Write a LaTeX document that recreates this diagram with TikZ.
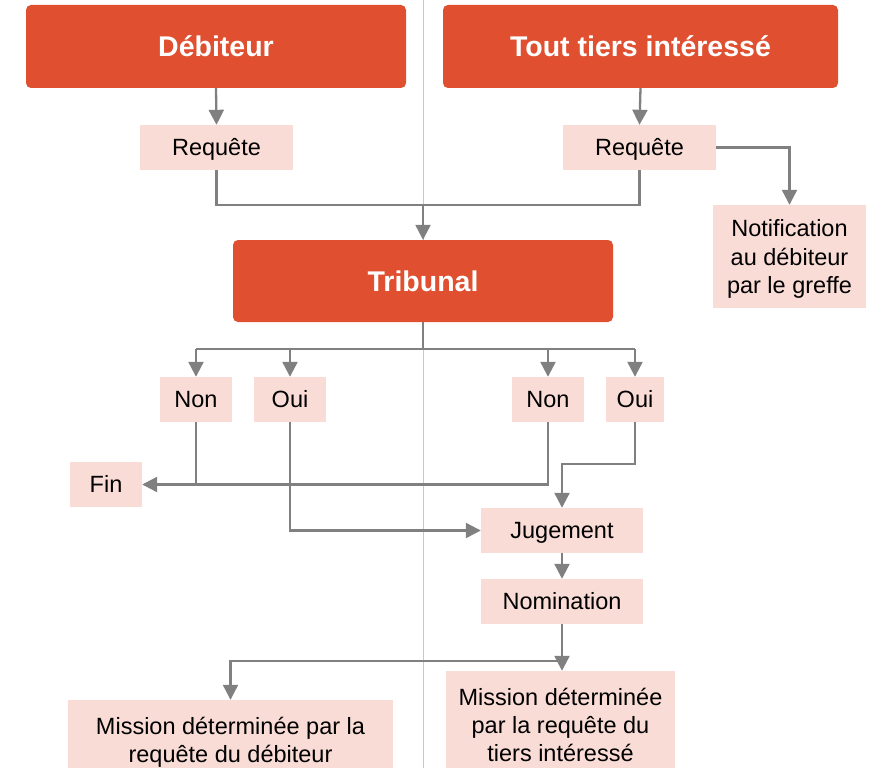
\documentclass[tikz,border=0pt]{standalone}
\usepackage{fontspec}
\setmainfont{Liberation Sans}
\usetikzlibrary{arrows.meta}
\definecolor{hdr}{RGB}{223,79,48}
\definecolor{pnk}{RGB}{249,220,214}
\definecolor{cn}{RGB}{128,128,128}
\definecolor{guide}{RGB}{200,200,200}
\begin{document}
\begin{tikzpicture}[x=1pt,y=-1pt,
  hdrbox/.style={fill=hdr, rounded corners=5pt, text=white, font=\fontsize{28.5}{34}\selectfont\bfseries, inner sep=0pt, text height=20.5pt, text depth=0pt},
  pbox/.style={fill=pnk, inner sep=0pt, align=center, font=\fontsize{23.5}{28.3}\selectfont, text depth=0pt},
  sbox/.style={pbox, text height=16.8pt, text depth=0pt},
  conn/.style={draw=cn, line width=2.3pt},
  arr/.style={conn, -{Triangle[width=15pt,length=15pt]}}]
\useasboundingbox (0,0) rectangle (871,768);
\draw[guide, line width=1pt] (423,0) -- (423,768);

\node[hdrbox, minimum width=380pt, minimum height=83pt] (deb) at (216,46.5) {Débiteur};
\node[hdrbox, minimum width=395pt, minimum height=83pt] (tiers) at (640.5,46.5) {Tout tiers intéressé};
\node[sbox, minimum width=153pt, minimum height=45pt] (req1) at (216.5,147.5) {Requête};
\node[sbox, minimum width=153pt, minimum height=45pt] (req2) at (639.5,147.5) {Requête};
\node[pbox, minimum width=153pt, minimum height=103pt] (notif) at (789.5,256.5) {Notification\\au débiteur\\par le greffe};
\node[hdrbox, minimum width=380pt, minimum height=82pt] (trib) at (423,281) {Tribunal};
\node[sbox, minimum width=72pt, minimum height=45pt] (non1) at (196,399.5) {Non};
\node[sbox, minimum width=72pt, minimum height=45pt] (oui1) at (290,399.5) {Oui};
\node[sbox, minimum width=72pt, minimum height=45pt] (non2) at (548,399.5) {Non};
\node[sbox, minimum width=58pt, minimum height=45pt] (oui2) at (635,399.5) {Oui};
\node[sbox, minimum width=72pt, minimum height=45pt] (fin) at (106,484.5) {Fin};
\node[sbox, minimum width=162pt, minimum height=45pt] (jug) at (562,530.5) {Jugement};
\node[sbox, minimum width=162pt, minimum height=45pt] (nom) at (562,601.5) {Nomination};
\node[pbox, minimum width=325pt, minimum height=79pt] (misl) at (230.5,739.5) {Mission déterminée par la\\requête du débiteur};
\node[pbox, minimum width=229pt, minimum height=108pt] (misr) at (560.5,725) {Mission déterminée\\par la requête du\\tiers intéressé};

\coordinate (j1) at (423,205);
\coordinate (b1) at (423,349);
\coordinate (c1) at (562,464);
\coordinate (br) at (562,661);

\draw[arr] (deb.south) -- (req1.north);
\draw[arr] (tiers.south) -- (req2.north);
\draw[conn] (req1.south) |- (j1) -| (req2.south);
\draw[arr] (j1) -- (trib.north);
\draw[arr] (req2.east) -| (notif.north);

\draw[conn] (trib.south) -- (b1);
\draw[conn] (non1.north |- b1) -- (oui2.north |- b1);
\draw[arr] (non1.north |- b1) -- (non1.north);
\draw[arr] (oui1.north |- b1) -- (oui1.north);
\draw[arr] (non2.north |- b1) -- (non2.north);
\draw[arr] (oui2.north |- b1) -- (oui2.north);

\draw[arr] (non2.south) |- (fin.east);
\draw[conn] (non1.south) -- (non1.south |- fin.east);
\draw[arr] (oui1.south) |- (jug.west);
\draw[arr] (oui2.south) |- (c1) -- (jug.north);
\draw[arr] (jug.south) -- (nom.north);
\draw[arr] (nom.south) -- (nom.south |- misr.north);
\draw[arr] (br) -| (misl.north);
\end{tikzpicture}
\end{document}
